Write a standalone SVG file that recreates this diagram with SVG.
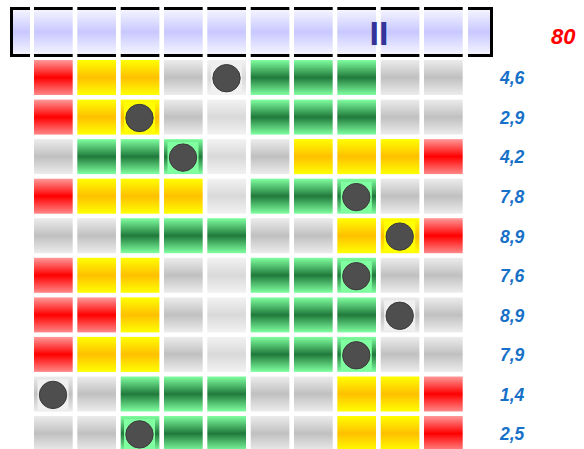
<svg xmlns="http://www.w3.org/2000/svg" width="584" height="449" viewBox="0 0 584 449">
<defs>
<linearGradient id="gLav" x1="0" y1="0" x2="0" y2="1"><stop offset="0" stop-color="#f7f7ff"/><stop offset="0.5" stop-color="#c8c8ff"/><stop offset="1" stop-color="#f7f7ff"/></linearGradient>
<linearGradient id="gRed" x1="0" y1="0" x2="0" y2="1"><stop offset="0" stop-color="#ff9999"/><stop offset="0.5" stop-color="#ff0000"/><stop offset="1" stop-color="#ff8888"/></linearGradient>
<linearGradient id="gYel" x1="0" y1="0" x2="0" y2="1"><stop offset="0" stop-color="#ffff00"/><stop offset="0.5" stop-color="#ffc000"/><stop offset="1" stop-color="#ffff00"/></linearGradient>
<linearGradient id="gGrn" x1="0" y1="0" x2="0" y2="1"><stop offset="0" stop-color="#80ffa0"/><stop offset="0.5" stop-color="#207a3b"/><stop offset="1" stop-color="#80ffa0"/></linearGradient>
<linearGradient id="gGry" x1="0" y1="0" x2="0" y2="1"><stop offset="0" stop-color="#ececec"/><stop offset="0.5" stop-color="#c0c0c0"/><stop offset="1" stop-color="#ececec"/></linearGradient>
<linearGradient id="gLgt" x1="0" y1="0" x2="0" y2="1"><stop offset="0" stop-color="#f2f2f2"/><stop offset="0.5" stop-color="#d9d9d9"/><stop offset="1" stop-color="#f2f2f2"/></linearGradient>
</defs>
<style>
.r{fill:url(#gRed)} .y{fill:url(#gYel)} .g{fill:url(#gGrn)} .s{fill:url(#gGry)} .l{fill:url(#gLgt)}
.gap{fill:#ffffff}
.dot{fill:#4e4e4e;stroke:#3a3a3a;stroke-width:1}
.by{fill:#ffff00} .bg{fill:#80ffa0} .bs{fill:#f0f0f0}
.lab{font-family:"Liberation Sans",Arial,sans-serif;font-weight:bold;font-style:italic;font-size:17.5px;fill:#1670c8}
</style>
<g id="topbar">
<rect x="11.5" y="8.5" width="480" height="47" fill="url(#gLav)" stroke="#000000" stroke-width="3"/>
<rect class="gap" x="30" y="6" width="4" height="52"/>
<rect class="gap" x="72.7" y="6" width="4.6" height="52"/>
<rect class="gap" x="116" y="6" width="4.7" height="52"/>
<rect class="gap" x="159.4" y="6" width="4.6" height="52"/>
<rect class="gap" x="202.7" y="6" width="4.6" height="52"/>
<rect class="gap" x="246" y="6" width="4.7" height="52"/>
<rect class="gap" x="289.4" y="6" width="4.6" height="52"/>
<rect class="gap" x="332.7" y="6" width="4.6" height="52"/>
<rect class="gap" x="376" y="6" width="4.7" height="52"/>
<rect class="gap" x="419.4" y="6" width="4.6" height="52"/>
<rect class="gap" x="462.7" y="6" width="5.3" height="52"/>
<text x="379" y="44.7" text-anchor="middle" font-family="'Liberation Sans',Arial,sans-serif" font-weight="bold" font-size="34" fill="#333399">II</text>
</g>
<g id="score"><text x="551" y="44.3" font-family="'Liberation Sans',Arial,sans-serif" font-weight="bold" font-style="italic" font-size="22" fill="#ff0000">80</text></g>
<g id="row1">
<rect class="r" x="34" y="60" width="38.7" height="35"/><rect class="y" x="77.3" y="60" width="38.7" height="35"/><rect class="y" x="120.7" y="60" width="38.7" height="35"/><rect class="s" x="164" y="60" width="38.7" height="35"/><rect class="l" x="207.3" y="60" width="38.7" height="35"/><rect class="g" x="250.7" y="60" width="38.7" height="35"/><rect class="g" x="294" y="60" width="38.7" height="35"/><rect class="g" x="337.3" y="60" width="38.7" height="35"/><rect class="s" x="380.7" y="60" width="38.7" height="35"/><rect class="s" x="424" y="60" width="38.7" height="35"/>
<rect class="bs" x="211" y="62.5" width="31" height="31"/><circle class="dot" cx="226.5" cy="78.2" r="13.7"/>
<text class="lab" x="500" y="84.3">4,6</text>
</g>
<g id="row2">
<rect class="r" x="34" y="99.6" width="38.7" height="35"/><rect class="y" x="77.3" y="99.6" width="38.7" height="35"/><rect class="y" x="120.7" y="99.6" width="38.7" height="35"/><rect class="s" x="164" y="99.6" width="38.7" height="35"/><rect class="l" x="207.3" y="99.6" width="38.7" height="35"/><rect class="g" x="250.7" y="99.6" width="38.7" height="35"/><rect class="g" x="294" y="99.6" width="38.7" height="35"/><rect class="g" x="337.3" y="99.6" width="38.7" height="35"/><rect class="s" x="380.7" y="99.6" width="38.7" height="35"/><rect class="s" x="424" y="99.6" width="38.7" height="35"/>
<rect class="by" x="124" y="102.4" width="31" height="31"/><circle class="dot" cx="139.5" cy="118" r="13.7"/>
<text class="lab" x="500" y="123.9">2,9</text>
</g>
<g id="row3">
<rect class="s" x="34" y="139.1" width="38.7" height="35"/><rect class="g" x="77.3" y="139.1" width="38.7" height="35"/><rect class="g" x="120.7" y="139.1" width="38.7" height="35"/><rect class="g" x="164" y="139.1" width="38.7" height="35"/><rect class="l" x="207.3" y="139.1" width="38.7" height="35"/><rect class="s" x="250.7" y="139.1" width="38.7" height="35"/><rect class="y" x="294" y="139.1" width="38.7" height="35"/><rect class="y" x="337.3" y="139.1" width="38.7" height="35"/><rect class="y" x="380.7" y="139.1" width="38.7" height="35"/><rect class="r" x="424" y="139.1" width="38.7" height="35"/>
<rect class="bg" x="167.5" y="142" width="31" height="31"/><circle class="dot" cx="183" cy="157.6" r="13.7"/>
<text class="lab" x="500" y="163.4">4,2</text>
</g>
<g id="row4">
<rect class="r" x="34" y="178.7" width="38.7" height="35"/><rect class="y" x="77.3" y="178.7" width="38.7" height="35"/><rect class="y" x="120.7" y="178.7" width="38.7" height="35"/><rect class="y" x="164" y="178.7" width="38.7" height="35"/><rect class="l" x="207.3" y="178.7" width="38.7" height="35"/><rect class="g" x="250.7" y="178.7" width="38.7" height="35"/><rect class="g" x="294" y="178.7" width="38.7" height="35"/><rect class="g" x="337.3" y="178.7" width="38.7" height="35"/><rect class="s" x="380.7" y="178.7" width="38.7" height="35"/><rect class="s" x="424" y="178.7" width="38.7" height="35"/>
<rect class="bg" x="340.8" y="181.5" width="31" height="31"/><circle class="dot" cx="356.3" cy="197.1" r="13.7"/>
<text class="lab" x="500" y="203">7,8</text>
</g>
<g id="row5">
<rect class="s" x="34" y="218.2" width="38.7" height="35"/><rect class="s" x="77.3" y="218.2" width="38.7" height="35"/><rect class="g" x="120.7" y="218.2" width="38.7" height="35"/><rect class="g" x="164" y="218.2" width="38.7" height="35"/><rect class="g" x="207.3" y="218.2" width="38.7" height="35"/><rect class="s" x="250.7" y="218.2" width="38.7" height="35"/><rect class="s" x="294" y="218.2" width="38.7" height="35"/><rect class="y" x="337.3" y="218.2" width="38.7" height="35"/><rect class="y" x="380.7" y="218.2" width="38.7" height="35"/><rect class="r" x="424" y="218.2" width="38.7" height="35"/>
<rect class="by" x="384.2" y="221" width="31" height="31"/><circle class="dot" cx="399.7" cy="236.6" r="13.7"/>
<text class="lab" x="500" y="242.5">8,9</text>
</g>
<g id="row6">
<rect class="r" x="34" y="257.8" width="38.7" height="35"/><rect class="y" x="77.3" y="257.8" width="38.7" height="35"/><rect class="y" x="120.7" y="257.8" width="38.7" height="35"/><rect class="s" x="164" y="257.8" width="38.7" height="35"/><rect class="l" x="207.3" y="257.8" width="38.7" height="35"/><rect class="g" x="250.7" y="257.8" width="38.7" height="35"/><rect class="g" x="294" y="257.8" width="38.7" height="35"/><rect class="g" x="337.3" y="257.8" width="38.7" height="35"/><rect class="s" x="380.7" y="257.8" width="38.7" height="35"/><rect class="s" x="424" y="257.8" width="38.7" height="35"/>
<rect class="bg" x="340.8" y="260.6" width="31" height="31"/><circle class="dot" cx="356.3" cy="276.2" r="13.7"/>
<text class="lab" x="500" y="282.1">7,6</text>
</g>
<g id="row7">
<rect class="r" x="34" y="297.4" width="38.7" height="35"/><rect class="r" x="77.3" y="297.4" width="38.7" height="35"/><rect class="y" x="120.7" y="297.4" width="38.7" height="35"/><rect class="s" x="164" y="297.4" width="38.7" height="35"/><rect class="l" x="207.3" y="297.4" width="38.7" height="35"/><rect class="g" x="250.7" y="297.4" width="38.7" height="35"/><rect class="g" x="294" y="297.4" width="38.7" height="35"/><rect class="g" x="337.3" y="297.4" width="38.7" height="35"/><rect class="s" x="380.7" y="297.4" width="38.7" height="35"/><rect class="s" x="424" y="297.4" width="38.7" height="35"/>
<rect class="bs" x="384.2" y="300.2" width="31" height="31"/><circle class="dot" cx="399.7" cy="315.8" r="13.7"/>
<text class="lab" x="500" y="321.7">8,9</text>
</g>
<g id="row8">
<rect class="r" x="34" y="336.9" width="38.7" height="35"/><rect class="y" x="77.3" y="336.9" width="38.7" height="35"/><rect class="y" x="120.7" y="336.9" width="38.7" height="35"/><rect class="s" x="164" y="336.9" width="38.7" height="35"/><rect class="l" x="207.3" y="336.9" width="38.7" height="35"/><rect class="g" x="250.7" y="336.9" width="38.7" height="35"/><rect class="g" x="294" y="336.9" width="38.7" height="35"/><rect class="g" x="337.3" y="336.9" width="38.7" height="35"/><rect class="s" x="380.7" y="336.9" width="38.7" height="35"/><rect class="s" x="424" y="336.9" width="38.7" height="35"/>
<rect class="bg" x="340.8" y="339.7" width="31" height="31"/><circle class="dot" cx="356.3" cy="355.3" r="13.7"/>
<text class="lab" x="500" y="361.2">7,9</text>
</g>
<g id="row9">
<rect class="s" x="34" y="376.5" width="38.7" height="35"/><rect class="s" x="77.3" y="376.5" width="38.7" height="35"/><rect class="g" x="120.7" y="376.5" width="38.7" height="35"/><rect class="g" x="164" y="376.5" width="38.7" height="35"/><rect class="g" x="207.3" y="376.5" width="38.7" height="35"/><rect class="s" x="250.7" y="376.5" width="38.7" height="35"/><rect class="s" x="294" y="376.5" width="38.7" height="35"/><rect class="y" x="337.3" y="376.5" width="38.7" height="35"/><rect class="y" x="380.7" y="376.5" width="38.7" height="35"/><rect class="r" x="424" y="376.5" width="38.7" height="35"/>
<rect class="bs" x="37.5" y="379.3" width="31" height="31"/><circle class="dot" cx="53" cy="394.9" r="13.7"/>
<text class="lab" x="500" y="400.8">1,4</text>
</g>
<g id="row10">
<rect class="s" x="34" y="416" width="38.7" height="35"/><rect class="s" x="77.3" y="416" width="38.7" height="35"/><rect class="g" x="120.7" y="416" width="38.7" height="35"/><rect class="g" x="164" y="416" width="38.7" height="35"/><rect class="g" x="207.3" y="416" width="38.7" height="35"/><rect class="s" x="250.7" y="416" width="38.7" height="35"/><rect class="s" x="294" y="416" width="38.7" height="35"/><rect class="y" x="337.3" y="416" width="38.7" height="35"/><rect class="y" x="380.7" y="416" width="38.7" height="35"/><rect class="r" x="424" y="416" width="38.7" height="35"/>
<rect class="bg" x="124" y="418.8" width="31" height="31"/><circle class="dot" cx="139.5" cy="434.4" r="13.7"/>
<text class="lab" x="500" y="440.3">2,5</text>
</g>
</svg>
